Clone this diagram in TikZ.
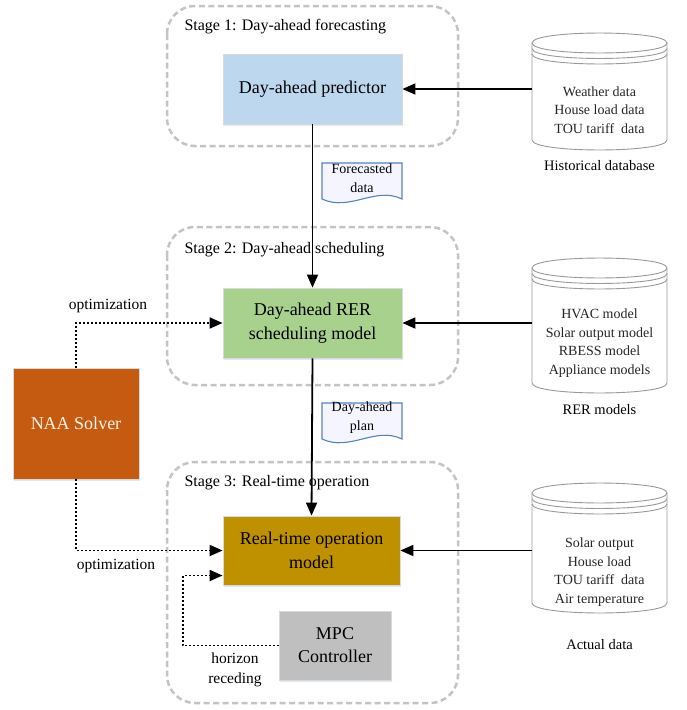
\documentclass[tikz,border=0pt]{standalone}
\usepackage{fontspec}
\setmainfont{Liberation Serif}
\usepackage{tikz}
\usetikzlibrary{arrows.meta,shadows}

\definecolor{predblue}{RGB}{189,215,238}
\definecolor{schedgreen}{RGB}{169,209,142}
\definecolor{rtgold}{RGB}{191,144,0}
\definecolor{naaorange}{RGB}{197,90,17}
\definecolor{mpcgray}{RGB}{191,191,191}
\definecolor{stagegray}{RGB}{196,196,196}
\definecolor{docblue}{RGB}{84,130,190}
\definecolor{shadeblue}{RGB}{214,228,242}

\tikzset{
  block/.style={draw=black!15, line width=0.8pt, align=center, inner sep=0pt,
    minimum width=179pt, minimum height=70pt, font=\fontsize{18}{24}\selectfont,
    drop shadow={shadow xshift=1pt, shadow yshift=-2pt, fill=shadeblue, opacity=0.8}},
  stagebox/.style={draw=stagegray, line width=2.5pt, dash pattern=on 6pt off 3.5pt, rounded corners=28pt},
  stagelabel/.style={anchor=west, font=\fontsize{16}{19}\selectfont},
  flow/.style={line width=1.8pt, -{Triangle[length=13pt,width=11pt]}},
  optline/.style={line width=1.8pt, dash pattern=on 2pt off 2pt, -{Triangle[length=13pt,width=11pt]}},
  dbshape/.style={draw=black!40, fill=white, line width=0.9pt},
  dbtext/.style={align=center, text=black!85, font=\fontsize{14}{18.5}\selectfont},
  dblabel/.style={font=\fontsize{14.5}{18}\selectfont},
  docshape/.style={draw=docblue, fill=blue!4, line width=1.1pt},
  doctext/.style={align=center, font=\fontsize{14}{19}\selectfont},
  sidelabel/.style={align=center, font=\fontsize{15.5}{20}\selectfont}
}

\begin{document}
\begin{tikzpicture}[x=1pt,y=-1pt]
\useasboundingbox (0,0) rectangle (686,710);

% stages
\draw[stagebox] (167,6) rectangle (458,146);
\draw[stagebox] (167,227) rectangle (458,385);
\draw[stagebox] (167,462) rectangle (458,703);
\node[stagelabel] (st1) at (181,27) {Stage 1: Day-ahead forecasting};
\node[stagelabel] (st2) at (181,250) {Stage 2: Day-ahead scheduling};
\node[stagelabel] (st3) at (181,483) {Stage 3: Real-time operation};

% main blocks
\node[block, fill=predblue] (pred) at (312.5,89) {Day-ahead predictor};
\node[block, fill=schedgreen] (sched) at (312.5,323) {Day-ahead RER\\scheduling model};
\node[block, fill=rtgold, minimum width=177pt, minimum height=69pt] (rt) at (311.5,550.5) {Real-time operation\\model};
\node[block, fill=mpcgray, minimum width=112pt, minimum height=69pt, font=\fontsize{18}{23}\selectfont] (mpc) at (335,645.5) {MPC\\Controller};
\node[block, fill=naaorange, text=white!92!orange, minimum width=126pt, minimum height=111pt] (naa) at (76,423.5) {NAA Solver};

% databases
\foreach \yt/\yb in {43/140, 268/383, 493/603} {
  \filldraw[dbshape] (532,\yt) -- (532,\yb) .. controls (532,\yb+13.3) and (667,\yb+13.3) .. (667,\yb)
    -- (667,\yt) .. controls (667,\yt-13.3) and (532,\yt-13.3) .. cycle;
  \foreach \d in {0,5.5,11}
    \draw[dbshape, fill=none] (532,\yt+\d) .. controls (532,\yt+\d+13.3) and (667,\yt+\d+13.3) .. (667,\yt+\d);
}
\node[dbtext] (histdb) at (599.5,110) {Weather data\\House load data\\TOU tariff\ \ data};
\node[dblabel] (histlbl) at (599.5,166) {Historical database};
\node[dbtext] (rerdb) at (599.5,343) {HVAC model\\Solar output model\\RBESS model\\Appliance models};
\node[dblabel] (rerlbl) at (599.5,410) {RER models};
\node[dbtext] (actdb) at (599.5,572) {Solar output\\House load\\TOU tariff\ \ data\\Air temperature};
\node[dblabel] (actlbl) at (599.5,645) {Actual data};
\coordinate (histin) at (532,89);
\coordinate (rerin) at (532,323);
\coordinate (actin) at (532,550.5);

% documents
\filldraw[docshape] (322,163) -- (402,163) -- (402,199) .. controls (375,186) and (350,212) .. (322,199) -- cycle;
\filldraw[docshape] (322,403) -- (402,403) -- (402,439) .. controls (375,426) and (350,452) .. (322,439) -- cycle;
\node[doctext] (fcdoc) at (362,178) {Forecasted\\data};
\node[doctext] (plandoc) at (362,418) {Day-ahead\\plan};

% connectors
\draw[flow] (histin) -- (pred.east);
\draw[flow] (rerin) -- (sched.east);
\draw[flow] (actin) -- (rt.east);
\draw[flow] (pred.south) -- (sched.north);
\draw[flow] (sched.south) -- (rt.north);
\draw[optline] (naa.north) |- (sched.west);
\draw[optline] (naa.south) |- (rt.west);
\draw[optline] (mpc.west) -- ++(-96,0) |- ([yshift=-25pt]rt.west);

\node[sidelabel] (opt1) at (108,306) {optimization};
\node[sidelabel] (opt2) at (116,566) {optimization};
\node[sidelabel] (recede) at (235,670) {horizon\\receding};
\end{tikzpicture}
\end{document}
